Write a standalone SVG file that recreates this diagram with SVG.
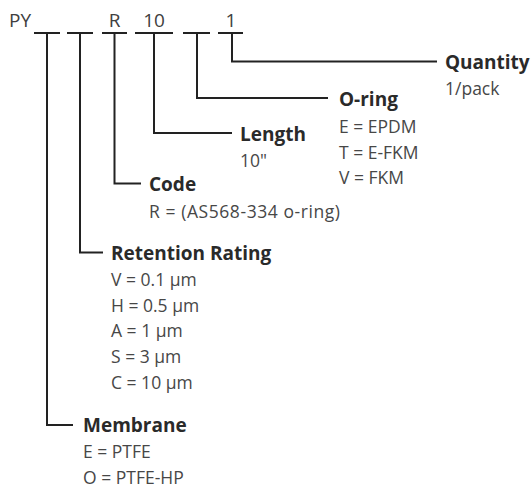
<svg xmlns="http://www.w3.org/2000/svg" width="532" height="490" viewBox="0 0 532 490">
<style>
text{font-family:"Open Sans","Liberation Sans",sans-serif}
.code{font-size:19px;fill:#404040}
.h{font-weight:700;font-size:19px;fill:#2a2a2a}
.t{font-size:17.5px;fill:#474747}
.ln{stroke:#222;stroke-width:2;fill:none}
</style>
<rect width="532" height="490" fill="#fff"/>
<g id="code">
<text class="code" x="9" y="27">PY</text>
<text class="code" x="114.5" y="27" text-anchor="middle">R</text>
<text class="code" x="154" y="27" text-anchor="middle">10</text>
<text class="code" x="231" y="27" text-anchor="middle">1</text>
<path class="ln" d="M34 33H60M67 33H93M102 33H127M135 33H173M183 33H210M218 33H243"/>
</g>
<g id="connectors">
<path class="ln" d="M232 33V61.5H437"/>
<path class="ln" d="M197 33V98H328"/>
<path class="ln" d="M154 33V133H232"/>
<path class="ln" d="M114.5 33V183.5H141"/>
<path class="ln" d="M80 33V252.5H103"/>
<path class="ln" d="M47 33V425H73"/>
</g>
<g id="quantity">
<text class="h" x="445" y="69">Quantity</text>
<text class="t" x="445" y="95">1/pack</text>
</g>
<g id="oring">
<text class="h" x="339" y="106">O-ring</text>
<text class="t" x="339" y="133">E = EPDM</text>
<text class="t" x="339" y="158.5">T = E-FKM</text>
<text class="t" x="339" y="184">V = FKM</text>
</g>
<g id="length">
<text class="h" x="240" y="141">Length</text>
<text class="t" x="240" y="167">10"</text>
</g>
<g id="code-node">
<text class="h" x="149" y="191">Code</text>
<text class="t" x="149" y="218" textLength="191" lengthAdjust="spacing">R = (AS568-334 o-ring)</text>
</g>
<g id="retention">
<text class="h" x="111" y="259.5">Retention Rating</text>
<text class="t" x="111" y="286">V = 0.1 µm</text>
<text class="t" x="111" y="311.5">H = 0.5 µm</text>
<text class="t" x="111" y="337">A = 1 µm</text>
<text class="t" x="111" y="363">S = 3 µm</text>
<text class="t" x="111" y="388.5">C = 10 µm</text>
</g>
<g id="membrane">
<text class="h" x="83" y="432">Membrane</text>
<text class="t" x="83" y="458">E = PTFE</text>
<text class="t" x="83" y="484">O = PTFE-HP</text>
</g>
</svg>
